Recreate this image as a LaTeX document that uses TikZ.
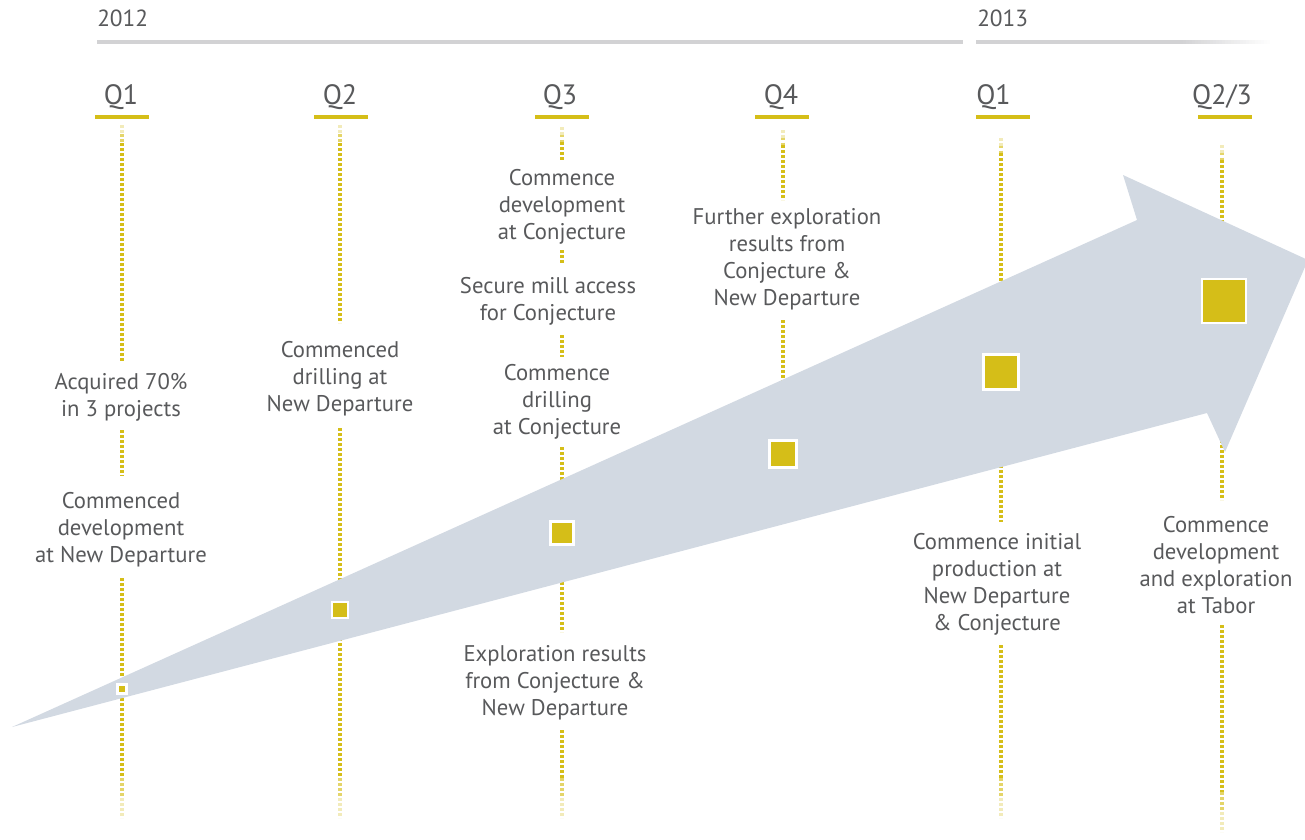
\documentclass[tikz,border=0pt]{standalone}
\usepackage{fontspec}
\setmainfont{PT Sans}
\definecolor{gold}{RGB}{213,190,24}
\definecolor{textgray}{RGB}{88,89,91}
\definecolor{rulegray}{RGB}{210,210,212}
\definecolor{arrowblue}{RGB}{210,217,226}

% vertical dotted run: x, y from, y to, fade length at top, fade length at bottom
\newcommand\dotrun[5]{%
  \pgfmathsetmacro\ya{#2+#4}\pgfmathsetmacro\yb{#3-#5}%
  \pgfmathsetmacro\yah{#2+#4/2}\pgfmathsetmacro\ybh{#3-#5/2}%
  \draw[dotline] (#1,\ya) -- (#1,\yb);
  \ifdim #4pt>0pt
    \draw[dotline,draw=gold!30] (#1,#2) -- (#1,\yah);
    \draw[dotline,draw=gold!65] (#1,\yah) -- (#1,\ya);
  \fi
  \ifdim #5pt>0pt
    \draw[dotline,draw=gold!65] (#1,\yb) -- (#1,\ybh);
    \draw[dotline,draw=gold!30] (#1,\ybh) -- (#1,#3);
  \fi
}

\begin{document}
\begin{tikzpicture}[x=0.75pt,y=-0.75pt,
  txt/.style={align=center,font=\fontsize{17}{20.25}\selectfont,text=textgray,inner sep=0pt},
  year/.style={font=\fontsize{17.5}{20}\selectfont,text=textgray,inner sep=0pt},
  qlab/.style={font=\fontsize{21}{24}\selectfont,text=textgray,inner sep=0pt},
  uline/.style={draw=gold,line width=3pt},
  dotline/.style={draw=gold,line width=3pt,dash pattern=on 2.2pt off 1.55pt},
  marker/.style={draw=white,fill=gold,line width=2pt,inner sep=0pt,rectangle}]

\useasboundingbox (0,0) rectangle (1305,839);

% years and their rules
\node[year,anchor=base west] (y12) at (97,26) {2012};
\node[year,anchor=base west] (y13) at (977,26) {2013};
\fill[rulegray] (97,40) rectangle (963,44);
\fill[rulegray] (976,40) rectangle (1180,44);
% the 2013 rule fades out to the right
\foreach \i in {0,...,30} {
  \pgfmathsetmacro\pc{100-\i*100/30}
  \fill[rulegray!\pc!white] ({1180+\i*3},40) rectangle ({1183.5+\i*3},44);
}

% quarter labels with underlines
\node[qlab,anchor=base] (qa) at (121,104) {Q1};
\node[qlab,anchor=base] (qb) at (340,104) {Q2};
\node[qlab,anchor=base] (qc) at (560,104) {Q3};
\node[qlab,anchor=base] (qd) at (781,104) {Q4};
\node[qlab,anchor=base west] (qe) at (976,104) {Q1};
\node[qlab,anchor=base] (qf) at (1222,104) {Q2/3};
\draw[uline] (95,116.5) -- (149,116.5);
\draw[uline] (314,116.5) -- (368,116.5);
\draw[uline] (535,116.5) -- (589,116.5);
\draw[uline] (755,116.5) -- (809,116.5);
\draw[uline] (976,116.5) -- (1030,116.5);
\draw[uline] (1198,116.5) -- (1252,116.5);

% milestone texts
\node[txt] (a1) at (121,397) {Acquired 70\%\\in 3 projects};
\node[txt] (a2) at (121,529.5) {Commenced\\development\\at New Departure};
\node[txt] (b1) at (340,378.5) {Commenced\\drilling at\\New Departure};
\node[txt] (c1) at (562,206.5) {Commence\\development\\at Conjecture};
\node[txt] (c2) at (548,301) {Secure mill access\\for Conjecture};
\node[txt] (c3) at (557,401.5) {Commence\\drilling\\at Conjecture};
\node[txt] (c4) at (555,682.5) {Exploration results\\from Conjecture \&\\New Departure};
\node[txt] (d1) at (787,259) {Further exploration\\results from\\Conjecture \&\\New Departure};
\node[txt] (e1) at (997,584) {Commence initial\\production at\\New Departure\\\& Conjecture};
\node[txt] (f1) at (1216,565) {Commence\\development\\and exploration\\at Tabor};

% dotted guide lines
\dotrun{122}{125}{362}{18}{0}
\dotrun{122}{430}{476}{0}{0}
\dotrun{122}{578}{818}{0}{40}
\dotrun{340}{125}{323}{18}{0}
\dotrun{340}{428}{818}{0}{40}
\dotrun{562}{127}{160}{15}{0}
\dotrun{562}{250}{263}{0}{0}
\dotrun{562}{335}{357}{0}{0}
\dotrun{562}{447}{632}{0}{0}
\dotrun{562}{730}{818}{0}{40}
\dotrun{783}{130}{200}{15}{0}
\dotrun{783}{320}{420}{0}{0}
\dotrun{1001}{138}{300}{15}{0}
\dotrun{1001}{460}{522}{0}{0}
\dotrun{1001}{645}{818}{0}{40}
\dotrun{1222}{145}{230}{15}{0}
\dotrun{1222}{440}{500}{0}{0}
\dotrun{1222}{625}{832}{0}{40}

% growth arrow
\fill[arrowblue] (12,727) -- (1137,220) -- (1123,175) -- (1308,260)
  -- (1225,452) -- (1207,413) -- cycle;

% milestone markers
\node[marker,minimum size=7pt] (s1) at (122,689) {};
\node[marker,minimum size=12pt] (s2) at (340,610) {};
\node[marker,minimum size=17pt] (s3) at (562,533) {};
\node[marker,minimum size=20pt] (s4) at (783,454) {};
\node[marker,minimum size=26.5pt] (s5) at (1001,372) {};
\node[marker,minimum size=33pt] (s6) at (1224,301) {};
\end{tikzpicture}
\end{document}
